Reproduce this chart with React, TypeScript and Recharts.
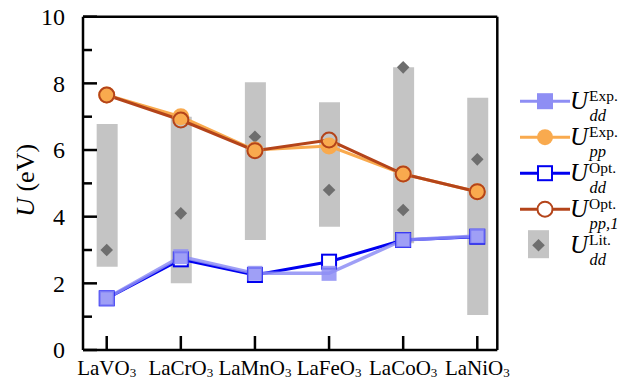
import React from 'react';
import { ComposedChart, Line, Bar, Scatter, XAxis, YAxis, ReferenceLine, Legend } from 'recharts';

const categories = ['LaVO3', 'LaCrO3', 'LaMnO3', 'LaFeO3', 'LaCoO3', 'LaNiO3'];
const uddExp = [1.55, 2.8, 2.3, 2.3, 3.3, 3.42];
const uppExp = [7.65, 7.0, 6.0, 6.12, 5.28, 4.75];
const uddOpt = [1.55, 2.72, 2.25, 2.65, 3.3, 3.4];
const uppOpt = [7.65, 6.9, 5.98, 6.3, 5.28, 4.75];
const litLow = [2.5, 2.0, 3.3, 3.7, 3.2, 1.05];
const litHigh = [6.78, 7.0, 8.03, 7.43, 8.48, 7.57];
const litPointX = [0, 1, 2, 3, 4, 4, 5];
const litPointY = [3.0, 4.1, 6.4, 4.8, 8.48, 4.2, 5.72];
const yTicks = [0, 1, 2, 3, 4, 5, 6, 7, 8, 9, 10];
const xTicks = [0, 1, 2, 3, 4, 5];

const LIGHT = '#8e8ef4';
const ORANGE = '#f9aa4e';
const BLUE = '#0000f0';
const BROWN = '#b4441a';
const GRAY = '#c4c4c4';
const DIAMOND = '#6e6e6e';
const FONT = '"Liberation Serif", "Times New Roman", serif';

const data = categories.map((c, i) => ({
  x: i,
  uddExp: uddExp[i],
  uppExp: uppExp[i],
  uddOpt: uddOpt[i],
  uppOpt: uppOpt[i],
  range: [litLow[i], litHigh[i]],
}));
const litData = litPointX.map((x, i) => ({ x, y: litPointY[i] }));

const XTick = (props: any) => {
  const { x, y, payload } = props;
  const name: string = categories[payload.value] || '';
  const m = name.match(/^(.*?)(\d+)$/);
  const base = m ? m[1] : name;
  const sub = m ? m[2] : '';
  return (
    <g>
      <line x1={x} x2={x} y1={y} y2={y - 14} stroke="#000" strokeWidth={2.5} />
      <text x={x} y={y + 24.5} textAnchor="middle" fontFamily={FONT} fontSize={21} fill="#000">
        {base}
        <tspan fontSize={13} dy={2.5}>{sub}</tspan>
      </text>
    </g>
  );
};

const YTickLeft = (props: any) => {
  const { x, y, payload } = props;
  const v = payload.value;
  const major = v % 2 === 0;
  return (
    <g>
      <line x1={x} x2={x + (major ? 14 : 9)} y1={y} y2={y} stroke="#000" strokeWidth={2.5} />
      {major && (
        <text x={x - 18} y={y} dy={8.3} textAnchor="end" fontFamily={FONT} fontSize={24} fill="#000">
          {v}
        </text>
      )}
    </g>
  );
};

const YTickRight = (props: any) => {
  const { x, y, payload } = props;
  const v = payload.value;
  const major = v % 2 === 0;
  return <line x1={x} x2={x - (major ? 13 : 8)} y1={y} y2={y} stroke="#000" strokeWidth={2.5} />;
};

const YLabel = (props: any) => {
  const vb = props.viewBox || {};
  const cx = vb.x - 12;
  const cy = vb.y + vb.height / 2 - 3;
  return (
    <text x={cx} y={cy} transform={`rotate(-90 ${cx} ${cy})`} textAnchor="middle" dy={8} fontFamily={FONT} fontSize={26} fill="#000">
      <tspan fontStyle="italic">U</tspan> (eV)
    </text>
  );
};

const squareDot = (fill: string, stroke: string, size: number, fillOpacity = 1) => (p: any) => {
  if (p.cx == null || p.cy == null) return <g key={p.key} />;
  return (
    <rect key={p.key} x={p.cx - size / 2} y={p.cy - size / 2} width={size} height={size} fill={fill} fillOpacity={fillOpacity} stroke={stroke} strokeWidth={2} />
  );
};
const circleDot = (fill: string, stroke: string, r: number) => (p: any) => {
  if (p.cx == null || p.cy == null) return <g key={p.key} />;
  return <circle key={p.key} cx={p.cx} cy={p.cy} r={r} fill={fill} stroke={stroke} strokeWidth={2} />;
};
const Diamond = (p: any) => {
  const { cx, cy } = p;
  const s = 6.3;
  return <polygon points={`${cx},${cy - s} ${cx + s},${cy} ${cx},${cy + s} ${cx - s},${cy}`} fill={DIAMOND} />;
};

const legendRows = [
  { kind: 'sqf', sup: 'Exp.', sub: 'dd' },
  { kind: 'cf', sup: 'Exp.', sub: 'pp' },
  { kind: 'sqo', sup: 'Opt.', sub: 'dd' },
  { kind: 'co', sup: 'Opt.', sub: 'pp,1' },
  { kind: 'lit', sup: 'Lit.', sub: 'dd' },
];

const LegendContent = () => (
  <svg width={103} height={190} style={{ display: 'block', overflow: 'visible' }}>
    {legendRows.map((r, i) => {
      const cy = 15.2 + 36 * i;
      let mark: any = null;
      if (r.kind === 'sqf') {
        mark = (
          <g>
            <line x1={2} x2={52} y1={cy} y2={cy} stroke={LIGHT} strokeWidth={3} />
            <rect x={19} y={cy - 8} width={16} height={16} fill={LIGHT} />
          </g>
        );
      } else if (r.kind === 'cf') {
        mark = (
          <g>
            <line x1={2} x2={52} y1={cy} y2={cy} stroke={ORANGE} strokeWidth={3} />
            <circle cx={27} cy={cy} r={8} fill={ORANGE} />
          </g>
        );
      } else if (r.kind === 'sqo') {
        mark = (
          <g>
            <line x1={2} x2={52} y1={cy} y2={cy} stroke={BLUE} strokeWidth={3} />
            <rect x={20} y={cy - 7} width={14} height={14} fill="#fff" stroke={BLUE} strokeWidth={2} />
          </g>
        );
      } else if (r.kind === 'co') {
        mark = (
          <g>
            <line x1={2} x2={52} y1={cy} y2={cy} stroke={BROWN} strokeWidth={3} />
            <circle cx={27} cy={cy} r={7.5} fill="#fff" stroke={BROWN} strokeWidth={2} />
          </g>
        );
      } else {
        mark = (
          <g>
            <rect x={10} y={cy - 15} width={21} height={28} fill={GRAY} />
            <polygon points={`20.5,${cy - 6.3} 26.8,${cy} 20.5,${cy + 6.3} 14.2,${cy}`} fill={DIAMOND} />
          </g>
        );
      }
      return (
        <g key={i}>
          {mark}
          <text x={52} y={cy + 8} fontFamily={FONT} fontSize={25} fontStyle="italic" fill="#000">U</text>
          <text x={71} y={cy} fontFamily={FONT} fontSize={15.5} fill="#000">{r.sup}</text>
          <text x={71.5} y={cy + 19.5} fontFamily={FONT} fontSize={16.5} fontStyle="italic" fill="#000">{r.sub}</text>
        </g>
      );
    })}
  </svg>
);

export default function App() {
  return (
    <div style={{ position: 'relative', width: 621, height: 381 }}>
      <style>{'html,body{margin:0;padding:0;overflow:hidden;}'}</style>
      <ComposedChart
        width={621}
        height={381}
        data={data}
        margin={{ top: 16.7, right: 113.7, bottom: 0, left: 38 }}
      >
        <XAxis
          dataKey="x"
          type="number"
          domain={[-0.32, 5.27]}
          ticks={xTicks}
          allowDataOverflow
          interval={0}
          height={31}
          tickSize={0}
          tickMargin={0}
          tick={<XTick />}
          tickLine={false}
          axisLine={{ stroke: '#000', strokeWidth: 2.5 }}
        />
        <YAxis
          type="number"
          domain={[0, 10]}
          ticks={yTicks}
          interval={0}
          width={45}
          tickSize={0}
          tickMargin={0}
          tick={<YTickLeft />}
          tickLine={false}
          axisLine={{ stroke: '#000', strokeWidth: 2.5 }}
          label={<YLabel />}
        />
        <YAxis
          yAxisId="r"
          orientation="right"
          type="number"
          domain={[0, 10]}
          ticks={yTicks}
          interval={0}
          width={10}
          tickSize={0}
          tickMargin={0}
          tick={<YTickRight />}
          tickLine={false}
          axisLine={{ stroke: '#000', strokeWidth: 2.5 }}
        />
        <ReferenceLine y={10} stroke="#000" strokeWidth={2.5} ifOverflow="visible" />
        <Bar dataKey="range" barSize={21} fill={GRAY} isAnimationActive={false} />
        <Scatter data={litData} dataKey="y" shape={<Diamond />} isAnimationActive={false} />
        <Line dataKey="uppExp" stroke={ORANGE} strokeWidth={3} dot={circleDot(ORANGE, ORANGE, 7.5)} isAnimationActive={false} />
        <Line dataKey="uppOpt" stroke={BROWN} strokeWidth={3} dot={circleDot('none', BROWN, 7.5)} isAnimationActive={false} />
        <Line dataKey="uddOpt" stroke={BLUE} strokeWidth={3} dot={squareDot('#fff', BLUE, 14)} isAnimationActive={false} />
        <Line dataKey="uddExp" stroke={LIGHT} strokeWidth={3.5} strokeOpacity={0.85} dot={squareDot(LIGHT, 'none', 15, 0.85)} isAnimationActive={false} />
        <Legend
          layout="horizontal"
          verticalAlign="middle"
          align="center"
          content={() => <LegendContent />}
          wrapperStyle={{ position: 'absolute', left: 518, top: 86, width: 103, height: 190 }}
        />
      </ComposedChart>
    </div>
  );
}
